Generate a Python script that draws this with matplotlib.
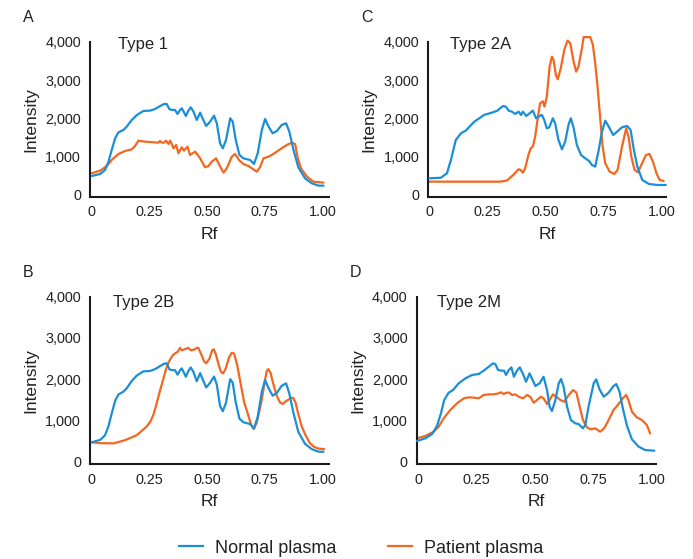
import matplotlib
matplotlib.use("Agg")
import matplotlib.pyplot as plt
from matplotlib.lines import Line2D

plt.rcParams['font.family'] = ['Liberation Sans', 'DejaVu Sans']

BLUE = "#1b8fd5"
ORANGE = "#f26722"
TXT = "#222222"

# ---------------- Data (Rf, Intensity) ----------------
# Panel A - Type 1
a_norm_rf = [0.0, 0.037, 0.058, 0.073, 0.087, 0.102, 0.116, 0.138, 0.152, 0.174, 0.196, 0.224, 0.253,
             0.275, 0.297, 0.314, 0.325, 0.337, 0.351, 0.361, 0.372, 0.383, 0.39, 0.398, 0.408, 0.419,
             0.429, 0.441, 0.455, 0.47, 0.477, 0.496, 0.513, 0.53, 0.542, 0.556, 0.568, 0.582, 0.6,
             0.611, 0.624, 0.64, 0.657, 0.686, 0.703, 0.719, 0.737, 0.751, 0.766, 0.784, 0.802, 0.823,
             0.842, 0.856, 0.874, 0.895, 0.924, 0.953, 0.982, 1.004]
a_norm_i = [496, 548, 653, 870, 1175, 1480, 1636, 1697, 1784, 1958, 2088, 2192, 2201,
            2245, 2323, 2375, 2375, 2236, 2219, 2219, 2114, 2219, 2262, 2180, 2062, 2201,
            2288, 2175, 1958, 2149, 2045, 1801, 1914, 2071, 1870, 1349, 1218, 1436, 2001,
            1914, 1436, 1044, 957, 914, 809, 1088, 1697, 1984, 1784, 1610, 1670, 1827,
            1870, 1653, 1175, 722, 435, 305, 244, 244]
a_pat_rf = [0.0, 0.037, 0.066, 0.087, 0.116, 0.145, 0.174, 0.188, 0.203, 0.231, 0.268, 0.289, 0.296,
            0.304, 0.313, 0.322, 0.333, 0.34, 0.347, 0.354, 0.366, 0.376, 0.39, 0.4, 0.415, 0.426,
            0.448, 0.47, 0.491, 0.506, 0.52, 0.539, 0.553, 0.571, 0.585, 0.607, 0.621, 0.638, 0.657,
            0.679, 0.7, 0.715, 0.729, 0.744, 0.766, 0.787, 0.816, 0.845, 0.867, 0.881, 0.891, 0.906,
            0.932, 0.96, 1.004]
a_pat_i = [566, 635, 757, 914, 1070, 1148, 1192, 1279, 1418, 1392, 1375, 1366, 1410,
           1366, 1366, 1418, 1331, 1418, 1331, 1218, 1305, 1088, 1244, 1157, 1262, 1044,
           1131, 957, 722, 757, 870, 957, 783, 583, 696, 1001, 1070, 914, 809,
           757, 670, 609, 722, 957, 1001, 1070, 1192, 1305, 1366, 1331, 1001, 696,
           479, 348, 322]

# Panel C - Type 2A
c_norm_rf = [0.0, 0.05, 0.076, 0.093, 0.114, 0.136, 0.157, 0.193, 0.236, 0.27, 0.293, 0.304, 0.318,
             0.33, 0.341, 0.355, 0.369, 0.384, 0.394, 0.402, 0.417, 0.431, 0.445, 0.459, 0.474, 0.484,
             0.494, 0.505, 0.515, 0.531, 0.541, 0.555, 0.57, 0.584, 0.598, 0.608, 0.62, 0.634, 0.652,
             0.67, 0.685, 0.699, 0.713, 0.728, 0.742, 0.756, 0.771, 0.79, 0.807, 0.828, 0.85, 0.865,
             0.879, 0.894, 0.915, 0.944, 0.98, 1.016]
c_norm_i = [435, 450, 565, 910, 1435, 1610, 1680, 1910, 2090, 2150, 2200, 2262, 2323,
            2300, 2201, 2175, 2114, 2175, 2088, 2175, 2062, 2132, 2201, 2001, 2062, 2088,
            1958, 1740, 1762, 2001, 1870, 1436, 1192, 1392, 1827, 2001, 1762, 1305, 1044,
            957, 896, 783, 740, 1175, 1653, 1940, 1784, 1566, 1653, 1766, 1801, 1697,
            1175, 740, 392, 287, 261, 261]
c_pat_rf = [0.0, 0.304, 0.333, 0.361, 0.383, 0.393, 0.402, 0.412, 0.426, 0.436, 0.445, 0.455, 0.465,
            0.476, 0.488, 0.495, 0.505, 0.517, 0.527, 0.534, 0.544, 0.552, 0.565, 0.58, 0.594, 0.606,
            0.62, 0.631, 0.641, 0.656, 0.663, 0.692, 0.703, 0.713, 0.723, 0.735, 0.745, 0.756, 0.775,
            0.795, 0.809, 0.828, 0.846, 0.856, 0.868, 0.882, 0.897, 0.914, 0.931, 0.946, 0.961, 0.976,
            0.99, 1.007]
c_pat_i = [348, 348, 374, 522, 670, 653, 583, 696, 1044, 1218, 1262, 1523, 1958,
           2392, 2445, 2306, 2567, 3349, 3610, 3523, 3132, 3019, 3306, 3785, 4028, 3958,
           3480, 3219, 3349, 3828, 4120, 4120, 3915, 3436, 2828, 1958, 1262, 827, 609,
           548, 653, 1262, 1740, 1523, 1001, 653, 592, 827, 1044, 1070, 870, 566,
           392, 365]

# Panel B - Type 2B
b_norm_rf = [0.0, 0.037, 0.058, 0.073, 0.087, 0.102, 0.116, 0.138, 0.152, 0.174, 0.196, 0.224, 0.253,
             0.275, 0.297, 0.314, 0.325, 0.337, 0.351, 0.361, 0.372, 0.383, 0.39, 0.398, 0.408, 0.419,
             0.429, 0.441, 0.455, 0.47, 0.477, 0.496, 0.513, 0.53, 0.542, 0.556, 0.568, 0.582, 0.6,
             0.611, 0.624, 0.64, 0.657, 0.686, 0.703, 0.719, 0.737, 0.751, 0.766, 0.784, 0.802, 0.823,
             0.842, 0.856, 0.874, 0.895, 0.924, 0.953, 0.982, 1.004]
b_norm_i = [470, 530, 640, 860, 1170, 1480, 1630, 1700, 1780, 1960, 2090, 2190, 2200,
            2245, 2320, 2375, 2385, 2236, 2219, 2219, 2110, 2219, 2262, 2180, 2060, 2201,
            2285, 2175, 1950, 2149, 2045, 1800, 1914, 2065, 1870, 1349, 1225, 1436, 2001,
            1914, 1436, 1044, 957, 914, 810, 1088, 1700, 1980, 1784, 1600, 1670, 1840,
            1900, 1653, 1175, 722, 435, 305, 244, 240]
b_pat_rf = [0.0, 0.04, 0.096, 0.146, 0.196, 0.238, 0.255, 0.267, 0.28, 0.295, 0.31, 0.323, 0.337,
            0.352, 0.365, 0.373, 0.383, 0.39, 0.4, 0.41, 0.418, 0.43, 0.445, 0.455, 0.462, 0.475,
            0.487, 0.496, 0.51, 0.522, 0.529, 0.538, 0.55, 0.56, 0.569, 0.58, 0.595, 0.607, 0.617,
            0.63, 0.645, 0.66, 0.678, 0.69, 0.702, 0.715, 0.735, 0.75, 0.758, 0.765, 0.775, 0.784,
            0.8, 0.815, 0.827, 0.845, 0.862, 0.872, 0.882, 0.895, 0.91, 0.926, 0.945, 0.962, 0.98, 1.007]
b_pat_i = [470, 450, 445, 525, 645, 850, 980, 1130, 1380, 1700, 2000, 2260, 2450,
           2585, 2640, 2665, 2760, 2700, 2720, 2740, 2760, 2700, 2720, 2760, 2760, 2600,
           2430, 2385, 2500, 2700, 2725, 2600, 2350, 2180, 2140, 2250, 2530, 2640, 2620,
           2350, 1900, 1450, 1130, 900, 790, 950, 1455, 1950, 2200, 2245, 2150, 1940,
           1620, 1440, 1400, 1480, 1540, 1550, 1450, 1150, 850, 645, 450, 365, 320, 305]

# Panel D - Type 2M
d_norm_rf = [-0.006, 0.03, 0.059, 0.08, 0.097, 0.111, 0.13, 0.149, 0.173, 0.202, 0.23, 0.259, 0.28,
             0.302, 0.32, 0.33, 0.342, 0.359, 0.368, 0.376, 0.388, 0.399, 0.41, 0.423, 0.435, 0.449,
             0.462, 0.477, 0.487, 0.502, 0.52, 0.537, 0.552, 0.563, 0.573, 0.588, 0.602, 0.612, 0.623,
             0.638, 0.654, 0.673, 0.687, 0.706, 0.716, 0.73, 0.752, 0.763, 0.777, 0.795, 0.816, 0.837,
             0.849, 0.863, 0.877, 0.895, 0.916, 0.945, 0.973, 1.012]
d_norm_i = [501, 568, 671, 866, 1173, 1496, 1673, 1738, 1900, 2021, 2102, 2126, 2206,
            2303, 2384, 2370, 2223, 2206, 2206, 2102, 2223, 2288, 2060, 2206, 2288, 2126,
            1939, 2143, 2021, 1835, 1900, 2060, 1738, 1333, 1229, 1496, 1900, 2005, 1818,
            1333, 1011, 931, 914, 810, 890, 1333, 1900, 1997, 1755, 1576, 1673, 1835,
            1883, 1697, 1294, 866, 543, 364, 283, 267]
d_pat_rf = [-0.006, 0.03, 0.066, 0.087, 0.109, 0.137, 0.166, 0.195, 0.216, 0.237, 0.259, 0.28, 0.302,
            0.323, 0.345, 0.355, 0.366, 0.378, 0.39, 0.402, 0.416, 0.43, 0.449, 0.466, 0.48, 0.495,
            0.509, 0.526, 0.537, 0.552, 0.563, 0.577, 0.592, 0.609, 0.626, 0.645, 0.664, 0.678, 0.692,
            0.706, 0.723, 0.74, 0.759, 0.78, 0.797, 0.816, 0.837, 0.859, 0.877, 0.891, 0.901, 0.916,
            0.937, 0.959, 0.98, 0.994]
d_pat_i = [568, 623, 727, 848, 1052, 1253, 1416, 1537, 1561, 1553, 1537, 1617, 1633,
           1633, 1658, 1682, 1641, 1674, 1674, 1617, 1633, 1576, 1537, 1617, 1576, 1430,
           1496, 1576, 1537, 1398, 1496, 1633, 1576, 1496, 1454, 1617, 1738, 1674, 1333,
           1011, 834, 785, 810, 727, 810, 1011, 1253, 1398, 1537, 1617, 1496, 1212,
           1076, 1011, 890, 688]

panels = [
    # letter, title, normal, patient, axes px (left, right, top, bottom), xlim, ylim
    ("A", "Type 1", (a_norm_rf, a_norm_i), (a_pat_rf, a_pat_i), (90, 329.3, 41.7, 197.1), (-0.007, 1.029), (-55, 4000)),
    ("C", "Type 2A", (c_norm_rf, c_norm_i), (c_pat_rf, c_pat_i), (428.3, 666, 41.7, 197.1), (-0.004, 1.017), (-55, 4000)),
    ("B", "Type 2B", (b_norm_rf, b_norm_i), (b_pat_rf, b_pat_i), (90, 329.3, 296.7, 464.2), (-0.007, 1.029), (-60, 4000)),
    ("D", "Type 2M", (d_norm_rf, d_norm_i), (d_pat_rf, d_pat_i), (416.7, 655.7, 296.7, 464.2), (-0.007, 1.018), (-60, 4000)),
]
letter_pos = {"A": (28, 17), "C": (367, 17), "B": (28, 272), "D": (355, 272)}
title_pos = {"A": (118, 45), "C": (450, 45), "B": (113, 302), "D": (437, 302)}

W, H = 693, 559
fig = plt.figure(figsize=(W / 100, H / 100), dpi=100)
fig.patch.set_facecolor("white")

xticks = [0, 0.25, 0.5, 0.75, 1.0]
xticklabels = ["0", "0.25", "0.50", "0.75", "1.00"]
yticks = [0, 1000, 2000, 3000, 4000]
yticklabels = ["0", "1,000", "2,000", "3,000", "4,000"]

for letter, title, norm, pat, (l, r, t, b), xl, yl in panels:
    ax = fig.add_axes([l / W, (H - b) / H, (r - l) / W, (b - t) / H])
    ax.plot(norm[0], norm[1], color=BLUE, lw=1.6, solid_joinstyle="round",
            solid_capstyle="round", clip_on=False, zorder=3)
    ax.plot(pat[0], pat[1], color=ORANGE, lw=1.6, solid_joinstyle="round",
            solid_capstyle="round", clip_on=False, zorder=2)
    ax.set_xlim(*xl)
    ax.set_ylim(*yl)
    ax.set_xticks(xticks)
    ax.set_xticklabels(xticklabels)
    ax.set_yticks(yticks)
    ax.set_yticklabels(yticklabels)
    for s in ["top", "right"]:
        ax.spines[s].set_visible(False)
    for s in ["left", "bottom"]:
        ax.spines[s].set_linewidth(1.5)
        ax.spines[s].set_color("#1a1a1a")
    ax.tick_params(length=0, labelsize=10.4, colors=TXT)
    ax.tick_params(axis="y", pad=6.5)
    ax.tick_params(axis="x", pad=6)
    ax.set_facecolor("none")
    ax.set_ylabel("Intensity", fontsize=12.5, color=TXT, labelpad=5)
    ax.set_xlabel("Rf", fontsize=12.5, color=TXT, labelpad=5.5)
    lx, ly = letter_pos[letter]
    fig.text(lx / W, 1 - ly / H, letter, fontsize=11.5, color=TXT, ha="center", va="center")
    tx, ty = title_pos[letter]
    fig.text(tx / W, 1 - ty / H, title, fontsize=12, color=TXT, ha="left", va="center")

handles = [Line2D([], [], color=BLUE, lw=1.6), Line2D([], [], color=ORANGE, lw=1.6)]
fig.legend(handles, ["Normal plasma", "Patient plasma"], loc="center",
           bbox_to_anchor=(0.521, (H - 548.3) / H), ncol=2, frameon=False,
           fontsize=13, handlelength=1.35, handletextpad=0.66, columnspacing=2.86,
           labelcolor=TXT)

fig.savefig("out.png", dpi=100, facecolor="white")
